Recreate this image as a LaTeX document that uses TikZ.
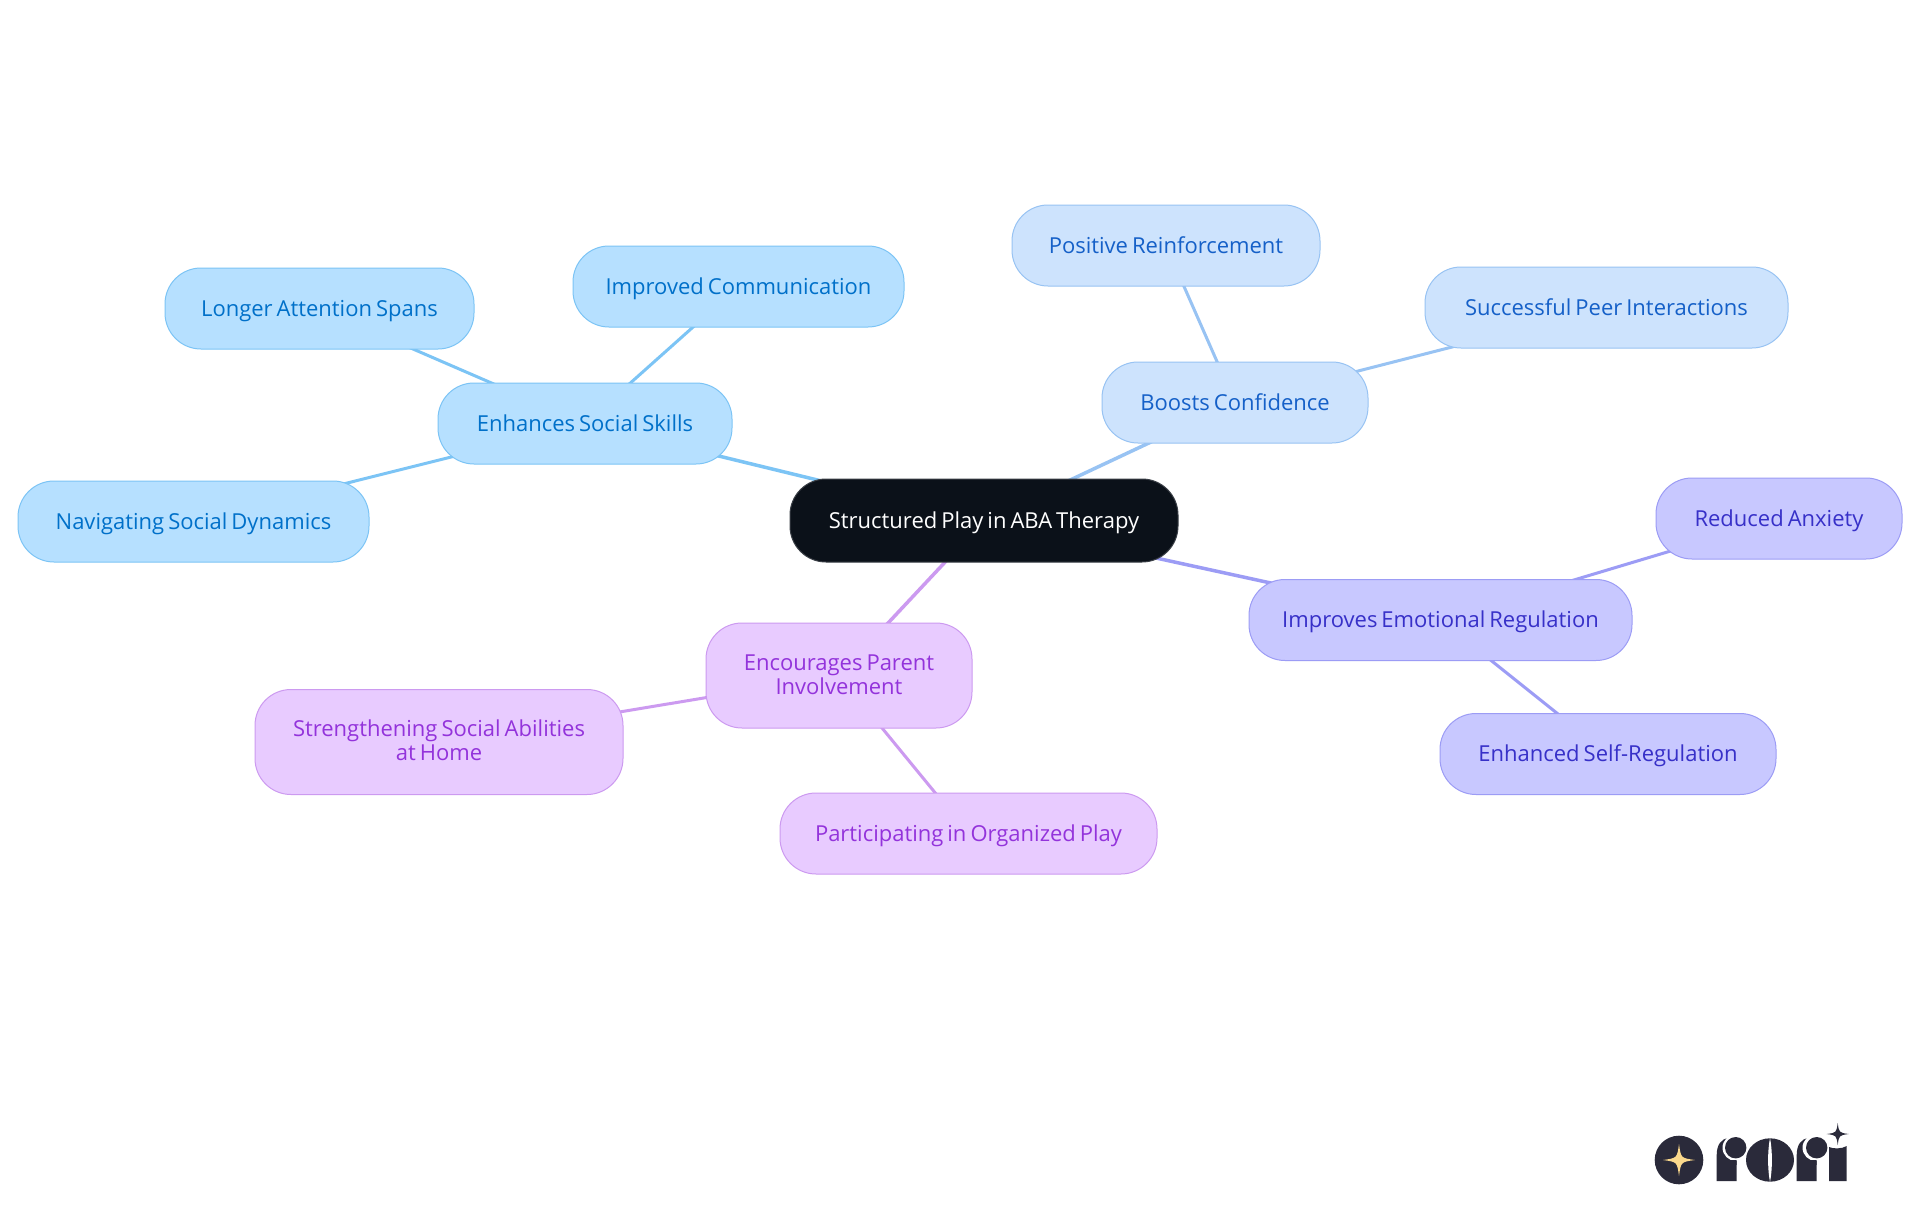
\documentclass[tikz,border=0pt]{standalone}
\usepackage{fontspec}
\setmainfont{Open Sans}[WordSpace=0.7]
\usetikzlibrary{backgrounds}
\definecolor{rootfill}{HTML}{0B1119}
\definecolor{rootline}{HTML}{3A3F46}
\definecolor{blfill}{HTML}{B6E0FF}\definecolor{blline}{HTML}{7CC4F5}\definecolor{bltext}{HTML}{0070C9}
\definecolor{skfill}{HTML}{CDE3FD}\definecolor{skline}{HTML}{98C3F3}\definecolor{sktext}{HTML}{1560C8}
\definecolor{infill}{HTML}{C8C8FF}\definecolor{inline}{HTML}{9C9CF5}\definecolor{intext}{HTML}{3730C8}
\definecolor{pufill}{HTML}{E8CBFF}\definecolor{puline}{HTML}{CC9AF0}\definecolor{putext}{HTML}{9333DB}
\definecolor{logodark}{HTML}{2A2A3A}\definecolor{logostar}{HTML}{FBD98C}
\newcommand{\lgstar}[4]{\fill[#4] (#1,#2-#3) .. controls (#1+0.12*#3,#2-0.12*#3) .. (#1+#3,#2) .. controls (#1+0.12*#3,#2+0.12*#3) .. (#1,#2+#3) .. controls (#1-0.12*#3,#2+0.12*#3) .. (#1-#3,#2) .. controls (#1-0.12*#3,#2-0.12*#3) .. cycle;}
\tikzset{
  x=1pt,y=-1pt,
  mm/.style={rectangle,rounded corners=36pt,inner sep=0pt,line width=1pt,align=center,
    text height=17.5pt,text depth=2.5pt,
    font=\fontsize{22}{24}\selectfont},
  twoline/.style={text height=40pt,text depth=2.4pt},
  rootn/.style={mm,fill=rootfill,draw=rootline,text=white},
  bln/.style={mm,fill=blfill,draw=blline,text=bltext},
  skn/.style={mm,fill=skfill,draw=skline,text=sktext},
  inn/.style={mm,fill=infill,draw=inline,text=intext},
  pun/.style={mm,fill=pufill,draw=puline,text=putext},
  rootedge/.style={line width=3.5pt},
  subedge/.style={line width=3pt},
}
\begin{document}
\begin{tikzpicture}
\useasboundingbox (0,0) rectangle (1920,1215);
\node[rootn,minimum width=388pt,minimum height=83pt] (root) at (984,520.5) {Structured Play in ABA Therapy};
\node[bln,minimum width=294pt,minimum height=81pt] (social) at (585,423.5) {Enhances Social Skills};
\node[bln,minimum width=309pt,minimum height=81pt] (attn) at (319.5,308.5) {Longer Attention Spans};
\node[bln,minimum width=331pt,minimum height=81pt] (comm) at (738.5,286.5) {Improved Communication};
\node[bln,minimum width=351pt,minimum height=81pt] (nav) at (193.5,521.5) {Navigating Social Dynamics};
\node[skn,minimum width=266pt,minimum height=81pt] (conf) at (1235,402.5) {Boosts Confidence};
\node[skn,minimum width=308pt,minimum height=81pt] (pos) at (1166,245.5) {Positive Reinforcement};
\node[skn,minimum width=363pt,minimum height=81pt] (peer) at (1606.5,307.5) {Successful Peer Interactions};
\node[inn,minimum width=383pt,minimum height=81pt] (emo) at (1440.5,620) {Improves Emotional Regulation};
\node[inn,minimum width=246pt,minimum height=81pt] (anx) at (1779,518.5) {Reduced Anxiety};
\node[inn,minimum width=336pt,minimum height=81pt] (self) at (1608,754) {Enhanced Self-Regulation};
\node[pun,twoline,minimum width=266pt,minimum height=105pt] (parent) at (839,675.5) {Encourages Parent\\Involvement};
\node[pun,twoline,minimum width=368pt,minimum height=105pt] (home) at (439,742) {Strengthening Social Abilities\\at Home};
\node[pun,minimum width=377pt,minimum height=81pt] (org) at (968.5,833.5) {Participating in Organized Play};
\begin{scope}[on background layer]
\fill[white] (0,0) rectangle (1920,1215);
\draw[rootedge,blline] (root.center) -- (social.center);
\draw[subedge,blline] (social.center) -- (attn.center);
\draw[subedge,blline] (social.center) -- (comm.center);
\draw[subedge,blline] (social.center) -- (nav.center);
\draw[rootedge,skline] (root.center) -- (conf.center);
\draw[subedge,skline] (conf.center) -- (pos.center);
\draw[subedge,skline] (conf.center) -- (peer.center);
\draw[rootedge,inline] (root.center) -- (emo.center);
\draw[subedge,inline] (emo.center) -- (anx.center);
\draw[subedge,inline] (emo.center) -- (self.center);
\draw[rootedge,puline] (root.center) -- (parent.center);
\draw[subedge,puline] (parent.center) -- (home.center);
\draw[subedge,puline] (parent.center) -- (org.center);
\end{scope}
% logo
\fill[logodark] (1679,1160) circle (24.3);
\lgstar{1679}{1160}{16}{logostar}
\fill[logodark] (1716.7,1181) -- (1716.7,1155) .. controls (1716.7,1145) and (1721,1138.5) .. (1729,1138) -- (1736.7,1150) -- (1736.7,1181) -- cycle;
\fill[white] (1735.7,1147.7) circle (13.2);
\fill[logodark] (1736.7,1165) -- (1725,1160) -- (1736.7,1160) -- cycle;
\fill[logodark] (1735.7,1147.7) circle (10.7);
\fill[logodark] (1770,1160) ellipse (24 and 21.7);
\fill[white] (1770,1138) .. controls (1772.5,1150) and (1772.5,1170) .. (1770,1182) .. controls (1767.5,1170) and (1767.5,1150) .. (1770,1138) -- cycle;
\fill[logodark] (1796.7,1181) -- (1796.7,1155) .. controls (1796.7,1145) and (1801,1138.5) .. (1809,1138) -- (1816.7,1150) -- (1816.7,1181) -- cycle;
\fill[white] (1815.7,1147.7) circle (13.2);
\fill[logodark] (1816.7,1165) -- (1805,1160) -- (1816.7,1160) -- cycle;
\fill[logodark] (1816.7,1147.7) circle (10.7);
\fill[logodark] (1829,1181) -- (1829,1147) .. controls (1833,1149) and (1842,1149) .. (1846.7,1146) -- (1846.7,1181) -- cycle;
\lgstar{1837.7}{1134}{11}{logodark}
\end{tikzpicture}
\end{document}
